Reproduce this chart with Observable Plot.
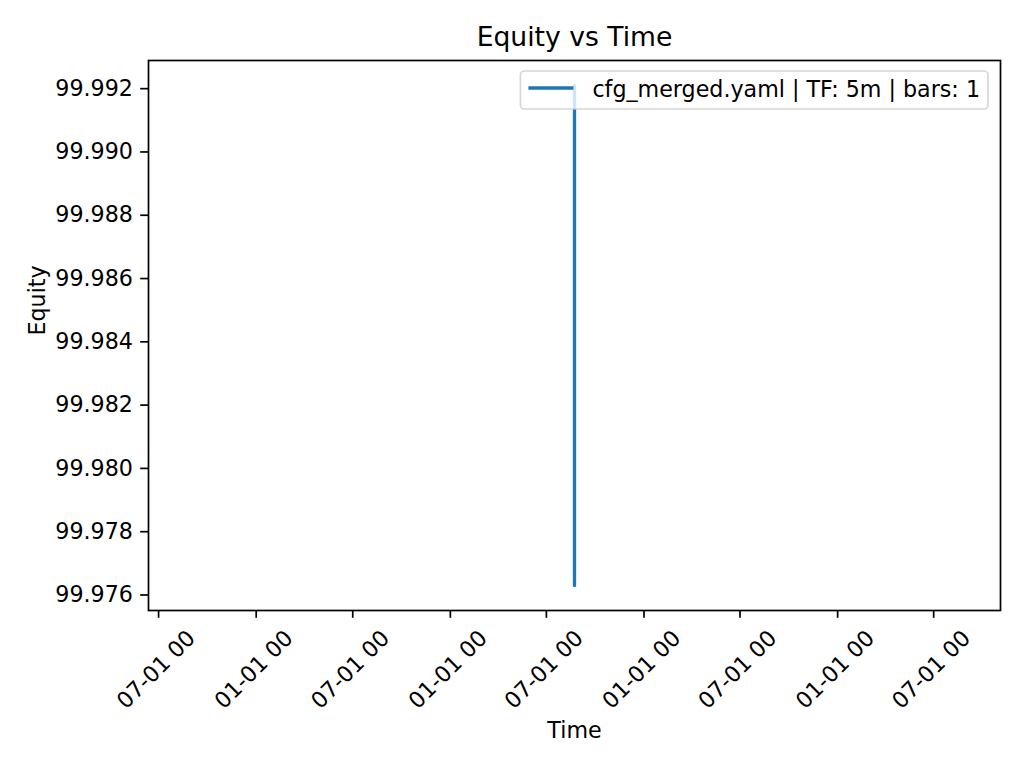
<!DOCTYPE html>
<html><head><meta charset="utf-8">
<script src="https://cdn.jsdelivr.net/npm/d3@7"></script>
<script src="https://cdn.jsdelivr.net/npm/@observablehq/plot@0.6"></script>
<style>
html,body{margin:0;padding:0;background:#fff;}
svg{font-family:"DejaVu Sans",sans-serif;}
</style>
</head><body><div id="chart"></div>
<script>
// ---- data ----
const times = ["2025-08-23T00:00:00Z", "2025-08-23T00:00:00Z"];
const equity = [99.9763, 99.9921];
const seriesLabel = "cfg_merged.yaml | TF: 5m | bars: 1";
const xTicks = ["2023-07-01", "2024-01-01", "2024-07-01", "2025-01-01", "2025-07-01",
                "2026-01-01", "2026-07-01", "2027-01-01", "2027-07-01"];
const yTicks = [99.976, 99.978, 99.980, 99.982, 99.984, 99.986, 99.988, 99.990, 99.992];
const titleText = "Equity vs Time";
const xLabel = "Time";
const yLabel = "Equity";

// ---- build ----
(function () {
const data = times.map((t, i) => ({time: new Date(t), equity: equity[i]}));
const DAY = 864e5;
let lo = +d3.min(data, d => d.time), hi = +d3.max(data, d => d.time);
if (lo === hi) { lo -= 730 * DAY; hi += 730 * DAY; }
const xp = (hi - lo) * 0.05;
const xDomain = [new Date(lo - xp), new Date(hi + xp)];
const [e0, e1] = d3.extent(equity);
const ep = (e1 - e0) * 0.05;
const yDomain = [e0 - ep, e1 + ep];

const W = 1024, H = 768, mL = 148, mR = 24, mT = 60, mB = 158;
const FS = 22.2;
const blue = "#1f77b4";

const chart = Plot.plot({
  width: W, height: H,
  marginLeft: mL, marginRight: mR, marginTop: mT, marginBottom: mB,
  style: {fontFamily: "DejaVu Sans, sans-serif", fontSize: FS + "px", background: "#fff", color: "#000"},
  x: {type: "utc", domain: xDomain},
  y: {type: "linear", domain: yDomain},
  marks: [
    Plot.line(data, {x: "time", y: "equity", stroke: blue, strokeWidth: 3.3}),
    Plot.frame({stroke: "#000", strokeWidth: 1.7}),
    Plot.axisY({ticks: yTicks, tickFormat: d => d.toFixed(3), tickSize: 7.8, tickPadding: 7.8,
                strokeWidth: 1.7, label: null, fontSize: FS}),
    Plot.axisX({ticks: xTicks.map(d => new Date(d)), tickSize: 7.8, strokeWidth: 1.7, text: null, label: null}),
    Plot.axisX({ticks: xTicks.map(d => new Date(d)), tickFormat: d3.utcFormat("%m-%d %H"),
                tickSize: 0, tickPadding: 24, tickRotate: -45, dx: 33, label: null, fontSize: FS}),
    Plot.text([titleText], {text: d => d, frameAnchor: "top", dy: -23, lineAnchor: "middle", fontSize: 26.6}),
    Plot.text([xLabel], {text: d => d, frameAnchor: "bottom", dy: 120, lineAnchor: "middle", fontSize: FS}),
    Plot.text([yLabel], {text: d => d, frameAnchor: "left", dx: -111, rotate: -90, lineAnchor: "middle", fontSize: FS})
  ]
});
document.getElementById("chart").appendChild(chart);

// ---- legend (upper right, matplotlib style) ----
const svg = d3.select(chart);
const g = svg.append("g").attr("class", "legend");
const lgRight = W - mR - 12, lgTop = mT + 11, boxH = 38;
const padL = 8, handle = 45, gap = 19, padR = 8;
const txt = g.append("text")
  .attr("font-size", FS).attr("fill", "#000")
  .attr("text-anchor", "start")
  .attr("dominant-baseline", "central")
  .text(seriesLabel);
const tw = txt.node().getComputedTextLength();
const boxW = padL + handle + gap + tw + padR;
const lgLeft = lgRight - boxW;
g.insert("rect", "text")
  .attr("x", lgLeft).attr("y", lgTop).attr("width", boxW).attr("height", boxH)
  .attr("rx", 4).attr("fill", "#fff").attr("fill-opacity", 0.8)
  .attr("stroke", "#cccccc").attr("stroke-opacity", 0.8).attr("stroke-width", 1.7);
g.insert("line", "text")
  .attr("x1", lgLeft + padL).attr("x2", lgLeft + padL + handle)
  .attr("y1", lgTop + boxH / 2 - 2).attr("y2", lgTop + boxH / 2 - 2)
  .attr("stroke", blue).attr("stroke-width", 3.3);
txt.attr("x", lgLeft + padL + handle + gap).attr("y", lgTop + boxH / 2 - 1);
})();
</script>
</body></html>
